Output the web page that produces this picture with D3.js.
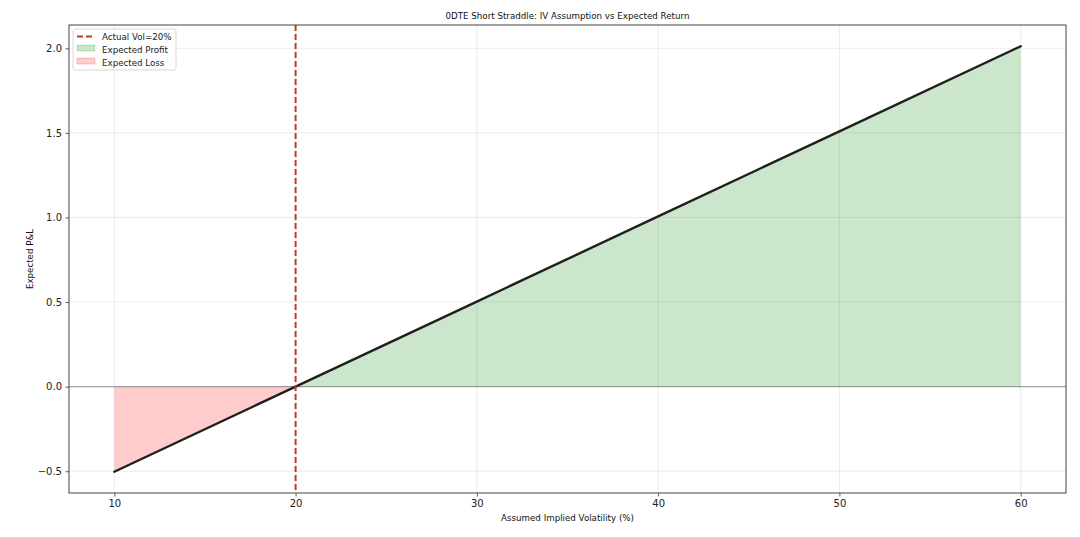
<!DOCTYPE html>
<html><head><meta charset="utf-8">
<script src="https://cdn.jsdelivr.net/npm/d3@7/dist/d3.min.js"></script>
<style>body{margin:0;background:#fff;}svg{display:block;font-family:"DejaVu Sans",sans-serif;}</style>
</head><body>
<svg id="c" width="1080" height="537"></svg>
<script>
const ivValues = [10, 20, 30, 40, 50, 60];
const pnlValues = [-0.503, 0.0, 0.503, 1.006, 1.509, 2.012];
const actualVol = 20;
const xTicks = [10, 20, 30, 40, 50, 60];
const yTicks = [-0.5, 0.0, 0.5, 1.0, 1.5, 2.0];
const title = "0DTE Short Straddle: IV Assumption vs Expected Return";
const xLabel = "Assumed Implied Volatility (%)";
const yLabel = "Expected P&L";
const legendLabels = ["Actual Vol=20%", "Expected Profit", "Expected Loss"];

const data = ivValues.map((v, i) => ({x: v, y: pnlValues[i]}));
const svg = d3.select("#c");
const L = 69, R = 1066, T = 25, B = 493;
const xr = [d3.min(ivValues), d3.max(ivValues)], xm = (xr[1]-xr[0])*0.05;
const yr = [d3.min(pnlValues), d3.max(pnlValues)], ym = (yr[1]-yr[0])*0.05;
const x = d3.scaleLinear().domain([xr[0]-xm, xr[1]+xm]).range([L, R]);
const y = d3.scaleLinear().domain([yr[0]-ym, yr[1]+ym]).range([B, T]);

// grid
const g = svg.append("g");
g.selectAll(".gx").data(xTicks).enter().append("line")
  .attr("x1", d => x(d)).attr("x2", d => x(d)).attr("y1", T).attr("y2", B)
  .attr("stroke", "#b0b0b0").attr("stroke-opacity", 0.3).attr("stroke-width", 0.8);
g.selectAll(".gy").data(yTicks).enter().append("line")
  .attr("x1", L).attr("x2", R).attr("y1", d => y(d)).attr("y2", d => y(d))
  .attr("stroke", "#b0b0b0").attr("stroke-opacity", 0.3).attr("stroke-width", 0.8);

// fills
const profit = data.filter(d => d.x >= actualVol);
const loss = data.filter(d => d.x <= actualVol);
const area = d3.area().x(d => x(d.x)).y0(y(0)).y1(d => y(d.y));
svg.append("path").datum(profit).attr("d", area).attr("fill", "green").attr("fill-opacity", 0.2);
svg.append("path").datum(loss).attr("d", area).attr("fill", "red").attr("fill-opacity", 0.2);

// zero line
svg.append("line").attr("x1", L).attr("x2", R).attr("y1", y(0)).attr("y2", y(0))
  .attr("stroke", "gray").attr("stroke-opacity", 0.7).attr("stroke-width", 1.2);

// main line
svg.append("path").datum(data).attr("d", d3.line().x(d => x(d.x)).y(d => y(d.y)))
  .attr("fill", "none").attr("stroke", "#1f1f1f").attr("stroke-width", 2.4).attr("stroke-linecap", "round");

// actual vol line
svg.append("line").attr("x1", x(actualVol)).attr("x2", x(actualVol)).attr("y1", T).attr("y2", B)
  .attr("stroke", "#c0392b").attr("stroke-width", 2).attr("stroke-dasharray", "6,3");

// axes
const xa = svg.append("g").attr("transform", `translate(0,${B})`)
  .call(d3.axisBottom(x).tickValues(xTicks).tickFormat(d3.format("d")).tickSize(3.5).tickPadding(3.5));
const ya = svg.append("g").attr("transform", `translate(${L},0)`)
  .call(d3.axisLeft(y).tickValues(yTicks).tickFormat(d => d < 0 ? "\u2212" + Math.abs(d).toFixed(1) : d.toFixed(1)).tickSize(3.5).tickPadding(3.5));
[xa, ya].forEach(a => {
  a.select(".domain").remove();
  a.selectAll("line").attr("stroke", "#333").attr("stroke-width", 0.8);
  a.selectAll("text").attr("font-size", "10px").attr("fill", "#222").attr("font-family", "DejaVu Sans");
});
svg.append("rect").attr("x", L).attr("y", T).attr("width", R-L).attr("height", B-T)
  .attr("fill", "none").attr("stroke", "#444").attr("stroke-width", 1);

// labels
svg.append("text").attr("x", (L+R)/2).attr("y", 19).attr("text-anchor", "middle")
  .attr("font-size", "8.7px").attr("fill", "#111").text(title);
svg.append("text").attr("x", (L+R)/2).attr("y", 521).attr("text-anchor", "middle")
  .attr("font-size", "8.7px").attr("fill", "#111").text(xLabel);
svg.append("text").attr("transform", `translate(33,${(T+B)/2}) rotate(-90)`).attr("text-anchor", "middle")
  .attr("font-size", "8.7px").attr("fill", "#111").text(yLabel);

// legend
const lg = svg.append("g").attr("transform", "translate(73,29)");
lg.append("rect").attr("width", 103).attr("height", 41).attr("rx", 2)
  .attr("fill", "#fff").attr("fill-opacity", 0.8).attr("stroke", "#ccc").attr("stroke-width", 0.8);
lg.append("line").attr("x1", 4).attr("x2", 22).attr("y1", 7.5).attr("y2", 7.5)
  .attr("stroke", "#c0392b").attr("stroke-width", 2).attr("stroke-dasharray", "6,3");
lg.append("rect").attr("x", 4).attr("y", 16).attr("width", 18).attr("height", 6)
  .attr("fill", "green").attr("fill-opacity", 0.2).attr("stroke", "green").attr("stroke-opacity", 0.2);
lg.append("rect").attr("x", 4).attr("y", 29).attr("width", 18).attr("height", 6)
  .attr("fill", "red").attr("fill-opacity", 0.2).attr("stroke", "red").attr("stroke-opacity", 0.2);
legendLabels.forEach((t, i) => {
  lg.append("text").attr("x", 29).attr("y", 10.5 + i*13).attr("font-size", "8.7px").attr("fill", "#222").text(t);
});
</script>
</body></html>
